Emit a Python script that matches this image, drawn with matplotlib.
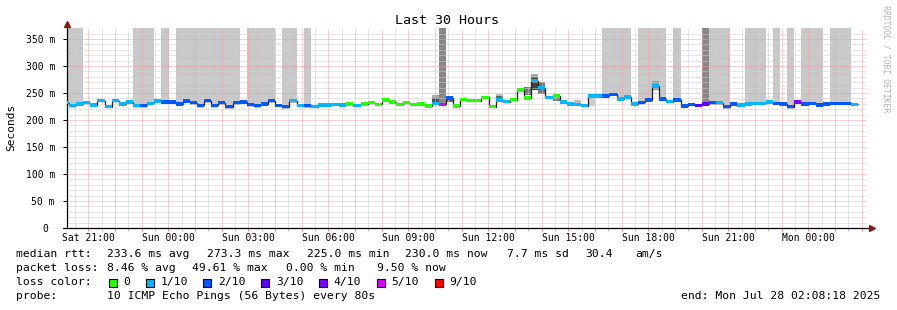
import matplotlib
matplotlib.use("Agg")
import matplotlib.pyplot as plt
import numpy as np
from matplotlib.patches import Rectangle

plt.rcParams['font.family'] = 'DejaVu Sans Mono'

# ---- data (16 min steps) ----
step_h = 16 / 60.0          # consolidation step in hours
first_edge = 0.086          # first full step boundary, hours after graph start

median_ms = [232, 227, 230, 232, 228, 236, 225, 236, 230, 233,
             227, 227, 231, 235, 233, 233, 230, 235, 232, 227,
             236, 227, 232, 225, 232, 233, 229, 227, 230, 236,
             227, 225, 236, 226.5, 226.5, 225, 228, 228, 229, 228,
             230, 227, 230, 232, 229, 237, 233, 229, 232, 229,
             230, 226, 231, 229, 241, 226, 237.6, 236, 236, 242,
             225, 237, 234, 237.6, 255.6, 241, 272.8, 260, 242, 244.4,
             233, 229.6, 229, 226.5, 244.4, 244.4, 244.4, 247.6, 239, 242.6,
             230, 232.7, 237, 263, 239, 234, 237, 226, 229, 227,
             230, 232, 232, 225, 230, 228, 230, 231, 231, 233,
             231, 230, 225, 233, 230, 231, 228, 230, 231, 231,
             231, 229]

# loss level per step (lost pings out of 10)
loss = [1, 1, 1, 1, 1, 1, 1, 1, 1, 1,
        1, 2, 1, 1, 2, 2, 2, 2, 2, 2,
        2, 2, 2, 2, 2, 2, 2, 2, 2, 2,
        2, 2, 1, 1, 2, 1, 1, 1, 1, 1,
        0, 1, 0, 0, 0, 0, 0, 0, 0, 0,
        0, 0, 1, 5, 2, 0, 0, 0, 0, 0,
        0, 1, 1, 0, 0, 0, 1, 1, 1, 0,
        1, 1, 1, 1, 1, 1, 2, 2, 1, 1,
        1, 2, 2, 1, 2, 1, 2, 2, 2, 3,
        3, 2, 1, 2, 2, 1, 1, 1, 1, 1,
        2, 2, 2, 4, 2, 2, 2, 2, 2, 2,
        2, 1]

loss_colors = {0: '#26ff00', 1: '#00b8ff', 2: '#0059ff', 3: '#5e00ff',
               4: '#7e00ff', 5: '#dd00ff', 9: '#ff0000'}
loss_labels = ['0', '1/10', '2/10', '3/10', '4/10', '5/10', '9/10']
loss_keys = [0, 1, 2, 3, 4, 5, 9]

# smoke reaching the top of the graph (first step, last step)
tall_smoke = [(0, 2), (10, 12), (14, 14), (16, 24), (26, 29), (31, 32),
              (34, 34), (76, 79), (81, 84), (86, 86), (91, 93), (96, 98),
              (100, 100), (102, 102), (104, 106), (108, 110)]
dark_tall = [53, 90]

# smaller smoke patches (step, low, high, grey)
smoke = [(52, 240, 247, '#aaaaaa'), (52, 232, 240, '#555555'),
         (54, 233, 245, '#666666'),
         (61, 244, 248, '#bbbbbb'), (61, 237, 244, '#666666'),
         (65, 246, 262, '#777777'),
         (66, 279, 286, '#aaaaaa'), (66, 255, 279, '#444444'),
         (67, 249, 271, '#777777'),
         (69, 236, 244, '#777777'),
         (72, 230, 237, '#bbbbbb'),
         (74, 226, 244, '#cccccc'),
         (83, 255, 272, '#999999')]

day_labels = ['Sat 21:00', 'Sun 00:00', 'Sun 03:00', 'Sun 06:00', 'Sun 09:00',
              'Sun 12:00', 'Sun 15:00', 'Sun 18:00', 'Sun 21:00', 'Mon 00:00']
first_hour = 0.81           # Sat 21:00, hours after graph start

# ---- figure ----
W, H = 897, 310
fig = plt.figure(figsize=(W / 100, H / 100), dpi=100)

def fx(px):
    return px / W

def fy(py):
    return 1 - py / H

x_left, x_right = 66.7, 866.7
y_bottom, y_topp = 228, 28
ax = fig.add_axes([fx(x_left), fy(y_bottom), (x_right - x_left) / W, (y_bottom - y_topp) / H])
ymax = 370.4
ax.set_xlim(0, 30)
ax.set_ylim(0, ymax)

n = len(median_ms)
edges = first_edge + (np.arange(n + 1) - 1) * step_h
starts = edges[:-1]
med = np.array(median_ms)

# tall light smoke
for a, b in tall_smoke:
    for k in range(a, b + 1):
        ax.bar(starts[k], ymax - (med[k] - 4), bottom=med[k] - 4, width=step_h,
               align='edge', color='#c8c8c8', linewidth=0, zorder=1)
for k in dark_tall:
    ax.bar(starts[k], ymax - (med[k] - 3), bottom=med[k] - 3, width=step_h,
           align='edge', color='#888888', linewidth=0, zorder=1.1)
for k, lo, hi, c in smoke:
    ax.bar(starts[k], hi - lo, bottom=lo, width=step_h, align='edge',
           color=c, linewidth=0, zorder=1.2)

# grid
minor_dash = (0, (1, 1))
hours = first_hour + np.arange(30)
half_hours = first_hour - 0.5 + np.arange(30)
for t in half_hours:
    if 0 < t < 30:
        ax.axvline(t, color='#cfcfcf', lw=0.72, ls=minor_dash, zorder=2)
for v in range(10, 370, 10):
    if v % 50:
        ax.axhline(v, color='#cfcfcf', lw=0.72, ls=minor_dash, zorder=2)
for t in hours:
    ax.axvline(t, color='#f4a0a0', lw=0.72, ls=minor_dash, zorder=2.1)
for v in range(50, 360, 50):
    ax.axhline(v, color='#f4a0a0', lw=0.72, ls=minor_dash, zorder=2.1)

# median: dark step line with loss-coloured band on top
ax.stairs(med, edges, baseline=None, color='#202020', lw=0.9, zorder=3)
band = 3.2
ax.bar(starts, 2 * band, bottom=med - band, width=step_h, align='edge',
       color=[loss_colors[l] for l in loss], linewidth=0, zorder=4)

# axes
for s in ['top', 'right']:
    ax.spines[s].set_visible(False)
ax.spines['left'].set_linewidth(0.9)
ax.spines['bottom'].set_linewidth(0.9)
ax.spines['bottom'].set_bounds(-0.15, 30.2)
ax.spines['left'].set_bounds(0, ymax + 3)
ax.plot([0.0], [1.0 + 4 / 200], marker='^', color='#8b1a1a', markersize=4,
        transform=ax.transAxes, clip_on=False, zorder=5)
ax.plot([1.0 + 5 / 800], [0], marker='>', color='#8b1a1a', markersize=4,
        transform=ax.transAxes, clip_on=False, zorder=5)

ax.set_yticks(range(0, 400, 50))
ax.set_yticklabels(['0 '] + ['%d m' % v for v in range(50, 400, 50)], fontsize=7)
ax.set_xticks(hours)
ax.set_xticklabels([day_labels[i // 3] if i % 3 == 0 else '' for i in range(30)], fontsize=7)
ax.set_xticks(half_hours[1:], minor=True)
ax.tick_params(axis='y', length=3, width=0.7, pad=5.5, color='#000000')
ax.tick_params(axis='x', which='major', length=2, width=0.7, pad=1.5, color='#f08080')
ax.tick_params(axis='x', which='minor', length=2, width=0.7, color='#bbbbbb')

fig.text(fx(447), fy(20), 'Last 30 Hours', ha='center', va='center', fontsize=9.6)
fig.text(fx(11), fy(127), 'Seconds', rotation=90, ha='center', va='center', fontsize=8)
fig.text(fx(886), fy(59), 'RRDTOOL / TOBI OETIKER', rotation=270, ha='center',
         va='center', fontsize=5.9, color='#b4b4b4')

# legend
fs = 8.2
def legend_text(x, y, s, **kw):
    fig.text(fx(x), fy(y), s, ha=kw.pop('ha', 'left'), va='center', fontsize=fs, **kw)

legend_text(16, 254, 'median rtt:')
for x, s in [(107.3, '233.6 ms avg'), (207.3, '273.3 ms max'), (307, '225.0 ms min'),
             (405, '230.0 ms now'), (507.3, '7.7 ms sd'), (585.7, '30.4'), (635, 'am/s')]:
    legend_text(x, 254, s)
legend_text(16, 268, 'packet loss:')
for x, s in [(107.3, '8.46 % avg'), (191.7, '49.61 % max'), (286, '0.00 % min'),
             (376.7, '9.50 % now')]:
    legend_text(x, 268, s)
legend_text(16, 282, 'loss color:')
box_x = [109, 145.7, 203.3, 261.3, 319, 377, 435]
for bx, key, lab in zip(box_x, loss_keys, loss_labels):
    fig.patches.append(Rectangle((fx(bx), fy(286.5)), 8 / W, 8 / H, transform=fig.transFigure,
                                 facecolor=loss_colors[key], edgecolor='black', lw=0.8))
    legend_text(bx + 14.5, 282, lab)
legend_text(16, 296, 'probe:')
legend_text(107.3, 296, '10 ICMP Echo Pings (56 Bytes) every 80s')
legend_text(880, 296, 'end: Mon Jul 28 02:08:18 2025', ha='right')

fig.savefig('out.png', dpi=100)
